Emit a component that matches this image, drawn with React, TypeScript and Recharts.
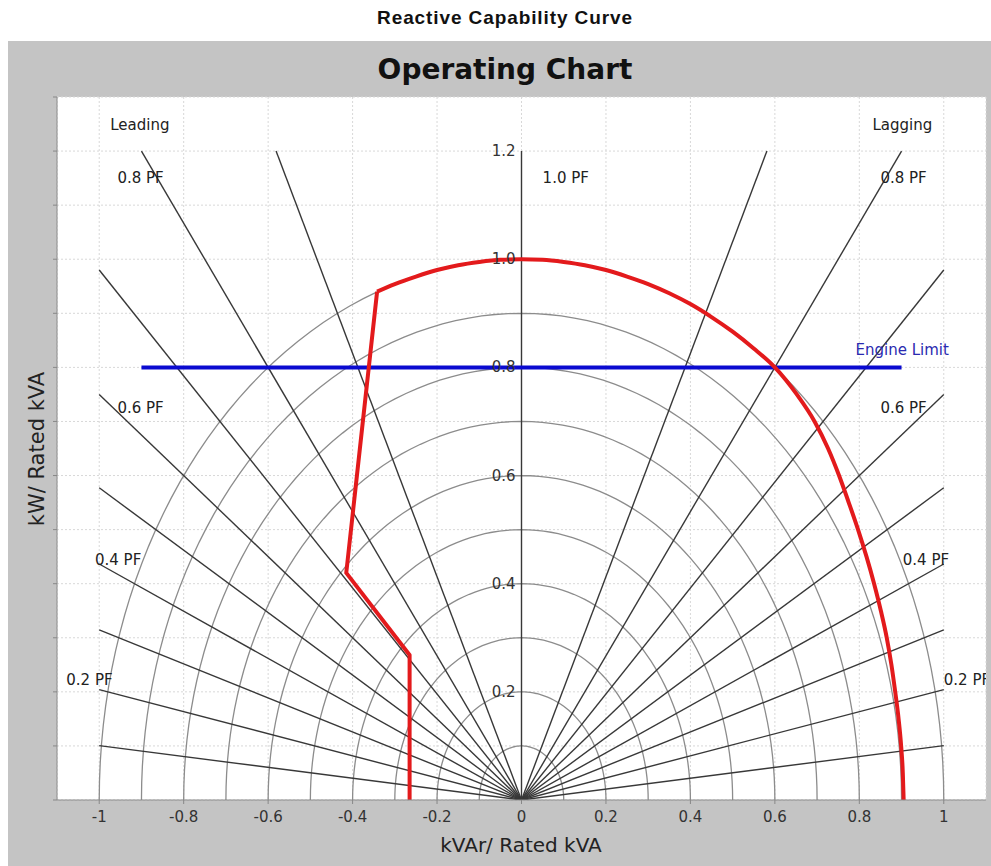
import React from 'react';
import { ComposedChart, Line, Scatter, XAxis, YAxis, CartesianGrid } from 'recharts';

// capability curve (kVAr, kW per unit)
// straight leading limit, then the rounded kVA / field limit
const leadingX = [-0.265, -0.265, -0.415, -0.342];
const leadingY = [0, 0.268, 0.42, 0.94];
const arcX = [
  -0.342, -0.3, -0.25, -0.2, -0.15, -0.1, -0.05, 0, 0.05, 0.1, 0.15, 0.2, 0.25, 0.3, 0.35, 0.4, 0.45, 0.5, 0.55, 0.6,
  0.652, 0.694, 0.726, 0.752, 0.775, 0.797, 0.817, 0.835, 0.851, 0.865, 0.876, 0.885, 0.893, 0.899, 0.903, 0.905,
];
const arcY = [
  0.94, 0.954, 0.968, 0.98, 0.989, 0.995, 0.999, 1.0, 0.999, 0.995, 0.989, 0.98, 0.968, 0.954, 0.937, 0.917, 0.893,
  0.866, 0.835, 0.8, 0.75, 0.7, 0.65, 0.6, 0.55, 0.5, 0.45, 0.4, 0.35, 0.3, 0.25, 0.2, 0.15, 0.1, 0.05, 0,
];

const engineLimitX = [-0.9, 0.9];
const engineLimitY = 0.8;

// chart grid: kVA circles and power factor rays
const kvaCircles = [0.1, 0.2, 0.3, 0.4, 0.5, 0.6, 0.7, 0.8, 0.9, 1.0];
const powerFactors = [0.9, 0.8, 0.7, 0.6, 0.5, 0.4, 0.3, 0.2, 0.1];
const rayTop = 1.2;
const rayEdge = 1.0;

const xTicks = [-1, -0.8, -0.6, -0.4, -0.2, 0, 0.2, 0.4, 0.6, 0.8, 1];
const yGridTicks = [0, 0.1, 0.2, 0.3, 0.4, 0.5, 0.6, 0.7, 0.8, 0.9, 1.0, 1.1, 1.2, 1.3];
const centreTicks = ['0.2', '0.4', '0.6', '0.8', '1.0', '1.2'];

const noteText = ['Leading', 'Lagging', '0.8 PF', '1.0 PF', '0.8 PF', '0.6 PF', '0.6 PF', '0.4 PF', '0.4 PF', '0.2 PF', '0.2 PF'];
const noteX = [-0.974, 0.831, -0.957, 0.05, 0.85, -0.957, 0.85, -1.01, 0.903, -1.078, 1.0];
const noteY = [1.249, 1.249, 1.15, 1.15, 1.15, 0.725, 0.725, 0.444, 0.444, 0.222, 0.222];

const FONT = '"DejaVu Sans", sans-serif';

const leadingData = leadingX.map((x, i) => ({ x, y: leadingY[i] }));
const arcData = arcX.map((x, i) => ({ x, y: arcY[i] }));
const engineData = engineLimitX.map((x) => ({ x, y: engineLimitY }));

const circleData = kvaCircles.map((r) => {
  const pts: { x: number; y: number }[] = [];
  for (let a = 0; a <= 180; a += 2) {
    const t = (a * Math.PI) / 180;
    pts.push({ x: r * Math.cos(t), y: r * Math.sin(t) });
  }
  return pts;
});

const rayData: { x: number; y: number }[][] = [];
powerFactors.forEach((pf) => {
  const tan = Math.tan(Math.acos(pf));
  const end = rayTop * tan <= rayEdge ? { x: rayTop * tan, y: rayTop } : { x: rayEdge, y: rayEdge / tan };
  rayData.push([{ x: 0, y: 0 }, end]);
  rayData.push([{ x: 0, y: 0 }, { x: -end.x, y: end.y }]);
});
rayData.push([{ x: 0, y: 0 }, { x: 0, y: rayTop }]);

const centreData = centreTicks.map((t) => ({ x: 0, y: Number(t), label: t }));
const noteData = noteText.map((text, i) => ({ x: noteX[i], y: noteY[i], label: text }));

const CentreLabel = (props: any) => (
  <text x={props.cx - 6} y={props.cy} textAnchor="end" dominantBaseline="central" fontSize={15} fontFamily={FONT} fill="#333">
    {props.payload.label}
  </text>
);

const NoteLabel = (props: any) => (
  <text x={props.cx} y={props.cy} textAnchor="start" dominantBaseline="central" fontSize={15} fontFamily={FONT} fill="#222">
    {props.payload.label}
  </text>
);

const EngineLabel = (props: any) => (
  <text x={props.cx} y={props.cy} textAnchor="start" dominantBaseline="central" fontSize={15} fontFamily={FONT} fill="#2a2ab0">
    Engine Limit
  </text>
);

export default function App() {
  return (
    <div style={{ position: 'relative', width: 991, height: 866, overflow: 'hidden', fontFamily: FONT, background: '#fff' }}>
      <style>{'body{margin:0}'}</style>
      <div style={{ position: 'absolute', left: 8, top: 7, width: 994, textAlign: 'center', lineHeight: '22px', fontFamily: '"Liberation Sans", Arial, sans-serif', fontWeight: 'bold', fontSize: 19, letterSpacing: 0.9, color: '#111' }}>
        Reactive Capability Curve
      </div>
      <div style={{ position: 'absolute', left: 8, top: 41, width: 983, height: 825, background: '#c4c4c4' }}>
        <div style={{ position: 'absolute', left: 0, top: 11, width: 994, textAlign: 'center', lineHeight: '36px', fontWeight: 'bold', fontSize: 28, color: '#111' }}>
          Operating Chart
        </div>
        <div style={{ position: 'absolute', left: 29, top: 408, transform: 'translate(-50%, -50%) rotate(-90deg)', whiteSpace: 'nowrap', fontSize: 21, color: '#222' }}>
          kW/ Rated kVA
        </div>
        <div style={{ position: 'absolute', left: 513, top: 804, transform: 'translate(-50%, -50%)', whiteSpace: 'nowrap', fontSize: 20, color: '#222' }}>
          kVAr/ Rated kVA
        </div>
        <ComposedChart width={983} height={825} margin={{ top: 56, right: 5, left: 0, bottom: 0 }}>
          <CartesianGrid fill="#ffffff" stroke="#d8d8d8" strokeDasharray="2 2" />
          <XAxis
            type="number"
            dataKey="x"
            domain={[-1.1, 1.1]}
            ticks={xTicks}
            allowDataOverflow
            height={66}
            tickSize={4}
            tickMargin={7}
            stroke="#888"
            tick={{ fontSize: 15, fontFamily: FONT, fill: '#333' }}
          />
          <YAxis
            type="number"
            dataKey="y"
            domain={[0, 1.3]}
            ticks={yGridTicks}
            allowDataOverflow
            width={49}
            tickSize={4}
            stroke="#888"
            tickFormatter={() => ''}
          />
          {circleData.map((pts, i) => (
            <Line key={`c${i}`} data={pts} dataKey="y" type="linear" stroke="#8c8c8c" strokeWidth={1.3} dot={false} isAnimationActive={false} />
          ))}
          {rayData.map((pts, i) => (
            <Line key={`r${i}`} data={pts} dataKey="y" type="linear" stroke="#383838" strokeWidth={1.4} dot={false} isAnimationActive={false} />
          ))}
          <Scatter data={centreData} dataKey="y" shape={CentreLabel} isAnimationActive={false} />
          <Scatter data={noteData} dataKey="y" shape={NoteLabel} isAnimationActive={false} />
          <Scatter data={[{ x: 0.791, y: 0.832 }]} dataKey="y" shape={EngineLabel} isAnimationActive={false} />
          <Line data={engineData} dataKey="y" type="linear" stroke="#0a0ad0" strokeWidth={4} dot={false} isAnimationActive={false} />
          <Line data={leadingData} dataKey="y" type="linear" stroke="#e31a1c" strokeWidth={4} strokeLinejoin="round" dot={false} isAnimationActive={false} />
          <Line data={arcData} dataKey="y" type="monotone" stroke="#e31a1c" strokeWidth={4} strokeLinejoin="round" dot={false} isAnimationActive={false} />
        </ComposedChart>
      </div>
    </div>
  );
}
